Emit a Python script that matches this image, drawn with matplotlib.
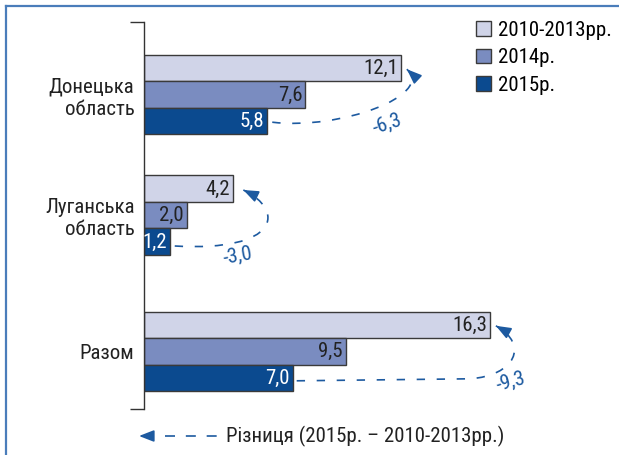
import matplotlib
matplotlib.use('Agg')
import matplotlib.pyplot as plt
from matplotlib.path import Path
from matplotlib.patches import PathPatch, Patch, FancyArrowPatch
from matplotlib.lines import Line2D

# ---------------- data ----------------
categories = ['Донецька\nобласть', 'Луганська\nобласть', 'Разом']
series_names = ['2010-2013рр.', '2014р.', '2015р.']
v_2010_2013 = [12.1, 4.2, 16.3]
v_2014 = [7.6, 2.0, 9.5]
v_2015 = [5.8, 1.2, 7.0]
diff_legend = 'Різниця (2015р. – 2010-2013рр.)'

# ---------------- style ----------------
plt.rcParams['font.family'] = ['Roboto Condensed', 'PT Sans Narrow', 'Fira Sans Condensed', 'DejaVu Sans']
colors = ['#d0d4e8', '#7a8cc0', '#0b4a8f']
text_colors = ['#222222', '#222222', 'white']
edge = '#3a3a3a'
blue = '#1d5aa0'
FS = 15

W, H = 619, 455
fig = plt.figure(figsize=(W / 100, H / 100), dpi=100)
ax_l, ax_r = 144.3, 568.3
ax_t, ax_b = 22, 409
ax = fig.add_axes([ax_l / W, 1 - ax_b / H, (ax_r - ax_l) / W, (ax_b - ax_t) / H])
XMAX = 20
ax.set_xlim(0, XMAX)
ax.set_ylim(ax_b, ax_t)
PX = (ax_r - ax_l) / XMAX  # pixels per unit

centers = [94.7, 215.0, 351.3]
bh = 26.5
all_vals = [v_2010_2013, v_2014, v_2015]
for i, vals in enumerate(all_vals):
    ys = [c + (i - 1) * bh for c in centers]
    ax.barh(ys, vals, height=bh, color=colors[i], edgecolor=edge, linewidth=1.0,
            label=series_names[i], zorder=2)
    for y, v in zip(ys, vals):
        ax.text(v - 3 / PX, y + 0.5, f'{v:.1f}'.replace('.', ','), ha='right', va='center',
                fontsize=FS, color=text_colors[i], zorder=3)

for s in ['top', 'right', 'bottom']:
    ax.spines[s].set_visible(False)
ax.spines['left'].set_color('#333333')
ax.spines['left'].set_linewidth(1.0)
ax.set_xticks([])
ax.set_yticks(centers)
ax.set_yticklabels(categories, fontsize=FS, color='#222222', linespacing=1.2)
ax.tick_params(axis='y', which='major', length=0, pad=7)
ax.set_yticks([ax_t, ax_b], minor=True)
ax.tick_params(axis='y', which='minor', length=10, width=1.0, color='#333333')

# ---------------- difference arrows ----------------
# pixel offsets relative to bar ends (A from the 2015 bar end; others from the 2010-2013 bar end)
curve_specs = [
    dict(A=(5, 1), line=None, C1=(-61, 9), C2=(34, 27), B=(6, 1), T=(-14, 3), rot=18),
    dict(A=(5, 4.5), line=None, C1=(47, 10.5), C2=(52, 21.5), B=(10, 1.5), T=(4, 14.5), rot=10),
    dict(A=(4, 3), line=(-20, 1), C1=(25, -2), C2=(40, 20), B=(6, 1), T=(21, 4), rot=15),
]
for k, spec in enumerate(curve_specs):
    e_top = v_2010_2013[k]
    e_bot = v_2015[k]
    y_top = centers[k] - bh
    y_bot = centers[k] + bh
    A = (e_bot + spec['A'][0] / PX, y_bot + spec['A'][1])
    verts = [A]
    codes = [Path.MOVETO]
    if spec['line'] is not None:
        verts.append((e_top + spec['line'][0] / PX, y_bot + spec['line'][1]))
        codes.append(Path.LINETO)
    C1 = (e_top + spec['C1'][0] / PX, y_bot + spec['C1'][1])
    C2 = (e_top + spec['C2'][0] / PX, y_top + spec['C2'][1])
    B = (e_top + spec['B'][0] / PX, y_top + spec['B'][1])
    verts += [C1, C2, B]
    codes += [Path.CURVE4] * 3
    ax.add_patch(PathPatch(Path(verts, codes), fill=False, edgecolor=blue, linewidth=1.2,
                           linestyle=(0, (5, 7)), zorder=4, clip_on=False))
    # arrow head
    dxp = (C2[0] - B[0]) * PX
    dyp = (C2[1] - B[1])
    n = (dxp ** 2 + dyp ** 2) ** 0.5
    tail = (B[0] + dxp / n * 6 / PX, B[1] + dyp / n * 6)
    ax.annotate('', xy=B, xytext=tail,
                arrowprops=dict(arrowstyle='-|>,head_length=0.9,head_width=0.35', color=blue,
                                lw=1.2, shrinkA=0, shrinkB=0, mutation_scale=10),
                annotation_clip=False, zorder=5)
    d = v_2015[k] - v_2010_2013[k]
    ax.text(e_top + spec['T'][0] / PX, y_bot + spec['T'][1], f'{d:.1f}'.replace('.', ','),
            rotation=spec['rot'], ha='center', va='center', fontsize=FS, color=blue, zorder=6)

# ---------------- legends ----------------
handles = [Patch(facecolor=colors[i], edgecolor=edge, linewidth=1.0) for i in range(3)]
fig.legend(handles, series_names, loc='upper left', bbox_to_anchor=(476 / W, 1 - 21 / H),
           frameon=False, fontsize=FS, handlelength=0.7, handleheight=0.7,
           handletextpad=0.35, labelspacing=0.4, borderpad=0, borderaxespad=0)

yb = 1 - 436 / H
fig.add_artist(Line2D([165 / W, 218 / W], [yb, yb], color=blue, lw=1.2,
                      linestyle=(0, (6, 6.5)), transform=fig.transFigure))
fig.add_artist(FancyArrowPatch(
    (153 / W, yb), (139 / W, yb), transform=fig.transFigure,
    arrowstyle='-|>,head_length=0.9,head_width=0.35', mutation_scale=10,
    color=blue, lw=1.2, shrinkA=0, shrinkB=0))
fig.text(226 / W, yb, diff_legend, ha='left', va='center', fontsize=FS, color='#222222')

# frame
fc = '#4a7dba'
fig.add_artist(Line2D([6 / W, 1], [1 - 6 / H, 1 - 6 / H], color=fc, lw=1.6,
                      transform=fig.transFigure))
fig.add_artist(Line2D([6 / W, 6 / W], [0, 1 - 6 / H], color=fc, lw=1.6,
                      transform=fig.transFigure))

fig.savefig('out.png', dpi=100)
